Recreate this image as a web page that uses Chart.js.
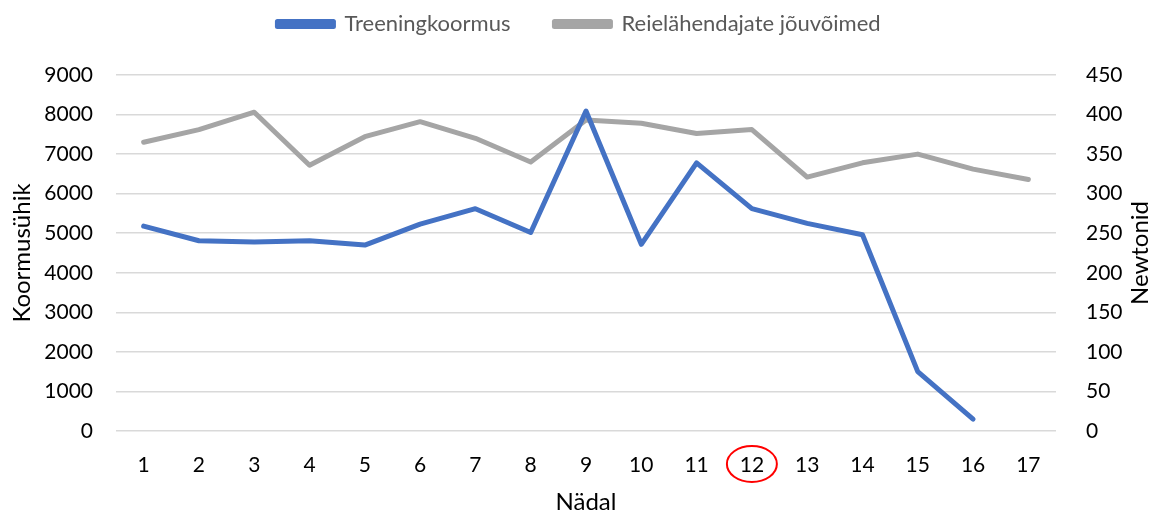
<!DOCTYPE html>
<html>
<head>
  <title>Treeningkoormus ja jõuvõimed</title>
  <style>
    body {
      margin: 0;
      padding: 0;
      background-color: #ffffff;
    }
    #wrap {
      width: 1158px;
      height: 513px;
      position: relative;
    }
  </style>
  <script src="https://cdn.jsdelivr.net/npm/chart.js"></script>
</head>
<body>
  <div id="wrap">
    <canvas id="chart"></canvas>
  </div>

  <script>
    // andmed
    var weeks = ['1', '2', '3', '4', '5', '6', '7', '8', '9', '10', '11', '12', '13', '14', '15', '16', '17'];
    var trainingLoad = [5180, 4810, 4775, 4810, 4700, 5230, 5620, 5020, 8090, 4720, 6780, 5620, 5250, 4960, 1500, 300];
    var thighForce = [365, 381, 403, 336, 372, 391, 370, 340, 393, 389, 376, 381, 321, 339, 350, 331, 318];
    var leftTicks = [0, 1000, 2000, 3000, 4000, 5000, 6000, 7000, 8000, 9000];
    var rightTicks = [0, 50, 100, 150, 200, 250, 300, 350, 400, 450];
    var markedWeek = '12';
    var rightTitle = 'Newtonid';

    var FONT = 'Lato, "Open Sans", sans-serif';

    // legendi kõrgus ja asukoht
    var legendSpace = {
      id: 'legendSpace',
      beforeInit: function(chart) {
        var fit = chart.legend.fit;
        chart.legend.fit = function() {
          fit.bind(chart.legend)();
          this.height = 75;
        };
      },
      afterLayout: function(chart) {
        chart.legend.top = -31;
      }
    };

    // parema telje pealkiri (loetav alt üles) ja punane ring
    var extrasPlugin = {
      id: 'extras',
      afterDraw: function(chart) {
        var ctx = chart.ctx;
        var area = chart.chartArea;
        var xScale = chart.scales.x;

        ctx.save();
        ctx.translate(1140, (area.top + area.bottom) / 2);
        ctx.rotate(-Math.PI / 2);
        ctx.font = '24px ' + FONT;
        ctx.fillStyle = '#000000';
        ctx.textAlign = 'center';
        ctx.textBaseline = 'middle';
        ctx.fillText(rightTitle, 0, 0);
        ctx.restore();

        var idx = weeks.indexOf(markedWeek);
        var cx = xScale.getPixelForValue(idx);
        var cy = xScale.top + 33;
        ctx.save();
        ctx.strokeStyle = '#ff0000';
        ctx.lineWidth = 2;
        ctx.beginPath();
        ctx.ellipse(cx, cy, 25, 18, 0, 0, Math.PI * 2);
        ctx.stroke();
        ctx.restore();
      }
    };

    function plain(v) { return String(v); }

    var chart = new Chart(document.getElementById('chart'), {
      type: 'line',
      data: {
        labels: weeks,
        datasets: [{
          label: 'Treeningkoormus',
          data: trainingLoad,
          yAxisID: 'y',
          borderColor: '#4472c4',
          backgroundColor: '#4472c4',
          borderWidth: 5,
          borderCapStyle: 'round',
          borderJoinStyle: 'round',
          pointRadius: 0,
          tension: 0,
          fill: false
        }, {
          label: 'Reielähendajate jõuvõimed',
          data: thighForce,
          yAxisID: 'y1',
          borderColor: '#a5a5a5',
          backgroundColor: '#a5a5a5',
          borderWidth: 5,
          borderCapStyle: 'round',
          borderJoinStyle: 'round',
          pointRadius: 0,
          tension: 0,
          fill: false
        }]
      },
      options: {
        responsive: true,
        maintainAspectRatio: false,
        animation: false,
        layout: {
          padding: 0
        },
        plugins: {
          legend: {
            position: 'top',
            labels: {
              boxWidth: 56,
              boxHeight: 5,
              padding: 44,
              color: '#595959',
              font: { family: FONT, size: 22 }
            }
          },
          tooltip: { enabled: false }
        },
        scales: {
          x: {
            offset: true,
            grid: { display: false },
            border: { display: false },
            afterFit: function(axis) { axis.height = 82; },
            ticks: {
              color: '#000000',
              padding: 14,
              font: { family: FONT, size: 21 }
            },
            title: {
              display: true,
              text: 'Nädal',
              color: '#000000',
              padding: 0,
              font: { family: FONT, size: 24, lineHeight: 0.9 }
            }
          },
          y: {
            position: 'left',
            min: 0,
            max: 9000,
            afterBuildTicks: function(axis) {
              axis.ticks = leftTicks.map(function(v) { return { value: v }; });
            },
            afterFit: function(axis) { axis.width = 116; },
            grid: { color: '#d9d9d9', lineWidth: 1.5, drawTicks: false },
            border: { display: false },
            ticks: {
              color: '#000000',
              padding: 23,
              callback: plain,
              font: { family: FONT, size: 21 }
            },
            title: {
              display: true,
              text: 'Koormusühik',
              color: '#000000',
              padding: { top: 8, bottom: 0 },
              font: { family: FONT, size: 24 }
            }
          },
          y1: {
            position: 'right',
            min: 0,
            max: 450,
            afterBuildTicks: function(axis) {
              axis.ticks = rightTicks.map(function(v) { return { value: v }; });
            },
            afterFit: function(axis) { axis.width = 102; },
            grid: { display: false },
            border: { display: false },
            ticks: {
              color: '#000000',
              padding: 22,
              callback: plain,
              font: { family: FONT, size: 21 }
            }
          }
        }
      },
      plugins: [legendSpace, extrasPlugin]
    });
  </script>
</body>
</html>
